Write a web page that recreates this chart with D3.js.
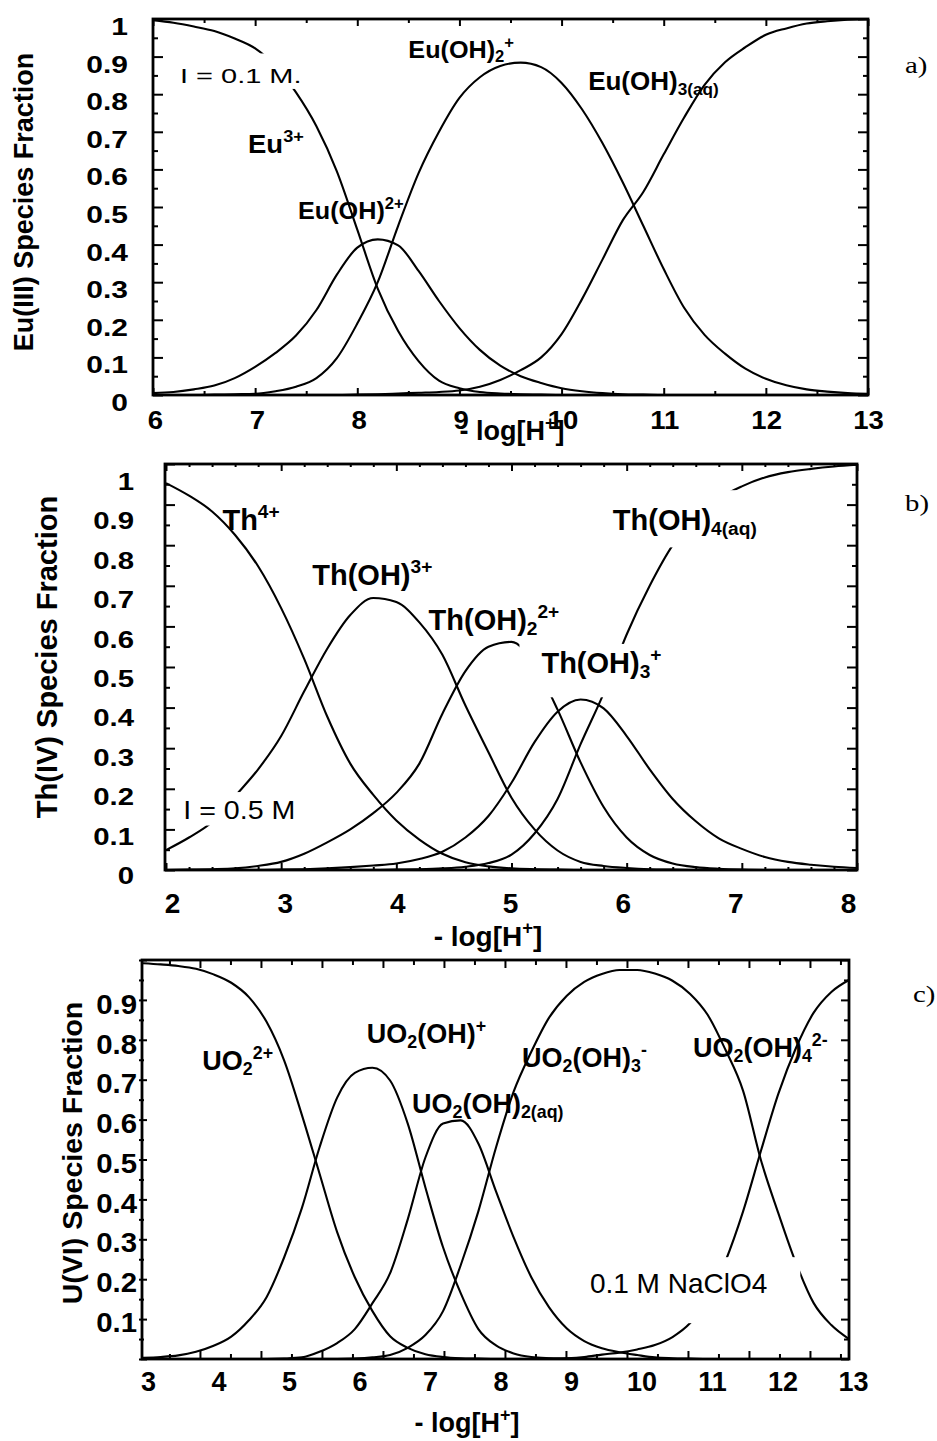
<!DOCTYPE html>
<html>
<head>
<meta charset="utf-8">
<script src="https://cdn.jsdelivr.net/npm/d3@7/dist/d3.min.js"></script>
<style>
  html, body { margin: 0; padding: 0; background: #fff; }
  svg { display: block; }
</style>
</head>
<body>
<svg id="fig" width="937" height="1441"></svg>
<script>
// ---------- (a) Eu(III) hydrolysis, I = 0.1 M ----------
const pHa = [6.0,6.2,6.4,6.6,6.8,7.0,7.2,7.4,7.6,7.8,8.0,8.2,8.4,8.6,8.8,9.0,9.2,9.4,9.6,9.8,
             10.0,10.2,10.4,10.6,10.8,11.0,11.2,11.4,11.6,11.8,12.0,12.2,12.4,12.6,12.8,13.0];
const euFree = [.997,.99,.98,.968,.948,.922,.875,.805,.715,.595,.44,.283,.17,.09,.038,.018,.008,.004,.002,.001,
                0,0,0,0,0,0,0,0,0,0,0,0,0,0,0,0];
const euOH   = [.005,.008,.015,.025,.045,.075,.112,.158,.226,.32,.392,.414,.398,.33,.25,.178,.12,.078,.05,.032,
                .018,.01,.005,.002,.001,0,0,0,0,0,0,0,0,0,0,0];
const euOH2  = [0,0,0,.001,.002,.003,.01,.022,.045,.098,.19,.30,.45,.59,.70,.79,.845,.875,.884,.872,
                .83,.76,.67,.565,.45,.335,.232,.16,.11,.07,.043,.026,.015,.009,.005,.003];
const euOH3  = [0,0,0,0,0,0,0,0,0,0,.001,.002,.004,.006,.008,.012,.022,.04,.066,.1,
                .162,.255,.36,.465,.54,.64,.738,.825,.885,.925,.958,.975,.988,.994,.998,1];
const euXTicks = [6,7,8,9,10,11,12,13];

// ---------- (b) Th(IV) hydrolysis, I = 0.5 M ----------
const pHb = [2.0,2.2,2.4,2.6,2.8,3.0,3.2,3.4,3.6,3.8,4.0,4.2,4.4,4.6,4.8,5.0,5.2,5.4,5.6,5.8,
             6.0,6.2,6.4,6.6,6.8,7.0,7.2,7.4,7.6,7.8,8.0];
const thFree = [.953,.922,.883,.825,.748,.645,.52,.378,.262,.185,.122,.075,.04,.019,.009,.004,.002,.001,0,0,
                0,0,0,0,0,0,0,0,0,0,0];
const thOH   = [.049,.08,.118,.182,.248,.33,.44,.545,.628,.67,.66,.61,.53,.405,.29,.178,.1,.048,.02,.01,
                .005,.002,.001,0,0,0,0,0,0,0,0];
const thOH2  = [0,.001,.002,.004,.01,.02,.04,.068,.1,.14,.19,.262,.385,.49,.55,.562,.505,.395,.265,.155,
                .08,.037,.016,.007,.003,.001,0,0,0,0,0];
const thOH3  = [0,0,0,0,0,.001,.002,.004,.007,.011,.016,.027,.045,.08,.133,.215,.315,.39,.42,.398,
                .33,.248,.175,.12,.078,.052,.032,.02,.013,.008,.005];
const thOH4  = [0,0,0,0,0,0,0,0,0,0,.001,.002,.004,.008,.017,.038,.09,.175,.31,.435,
                .58,.70,.80,.868,.915,.945,.967,.98,.988,.994,.998];
const thXTicks = [2,3,4,5,6,7,8];

// ---------- (c) U(VI) hydrolysis, 0.1 M NaClO4 ----------
const pHc = [3,3.25,3.5,3.75,4,4.25,4.5,4.75,5,5.25,5.5,5.75,6,6.25,6.5,6.75,7,7.25,7.5,7.75,
             8,8.25,8.5,8.75,9,9.25,9.5,9.75,10,10.25,10.5,10.75,11,11.25,11.5,11.75,12,12.25,12.5,12.75,13];
const uFree = [.992,.989,.985,.978,.964,.943,.907,.845,.748,.612,.465,.318,.205,.12,.057,.028,.012,.005,.002,.001,
               0,0,0,0,0,0,0,0,0,0,0,0,0,0,0,0,0,0,0,0,0];
const uOH   = [.003,.005,.009,.018,.033,.056,.097,.155,.255,.378,.53,.655,.717,.73,.698,.59,.43,.28,.165,.075,
               .034,.014,.005,.002,.001,0,0,0,0,0,0,0,0,0,0,0,0,0,0,0,0];
const uOH2  = [0,0,0,0,0,0,0,0,.001,.004,.018,.04,.075,.14,.215,.35,.505,.59,.598,.54,
               .42,.305,.205,.13,.077,.045,.027,.017,.01,.004,.002,.001,0,0,0,0,0,0,0,0,0];
const uOH3  = [0,0,0,0,0,0,0,0,0,0,0,0,.001,.004,.01,.028,.06,.12,.235,.37,
               .53,.67,.77,.855,.91,.945,.965,.975,.975,.966,.948,.915,.862,.775,.672,.5,.365,.24,.14,.085,.05];
const uOH4  = [0,0,0,0,0,0,0,0,0,0,0,0,0,0,0,0,0,0,0,0,
               0,0,0,.001,.002,.005,.011,.016,.024,.035,.055,.09,.15,.245,.37,.52,.665,.78,.868,.92,.95];
const uXTicks = [3,4,5,6,7,8,9,10,11,12,13];

// y tick labels
const fracTicks = [0,0.1,0.2,0.3,0.4,0.5,0.6,0.7,0.8,0.9,1];
const fracTicksU = [0.1,0.2,0.3,0.4,0.5,0.6,0.7,0.8,0.9];

// ---------- drawing ----------
const SANS = "'Liberation Sans', Arial, Helvetica, sans-serif";
const SERIF = "'Liberation Serif', 'Times New Roman', serif";
const svg = d3.select('#fig');
const fmtFrac = d => String(+d.toFixed(1));
const steps = (a, b, s) => d3.range(Math.round((b - a) / s) + 1).map(i => +(a + i * s).toFixed(3));

// split "Eu(OH)_{2}^{+}" into normal / subscript / superscript runs
function parseRich(str) {
  const out = [];
  const re = /([_^])\{([^}]*)\}|([^_^]+)/g;
  let m;
  while ((m = re.exec(str))) {
    if (m[3]) out.push({ k: 'n', s: m[3] });
    else out.push({ k: m[1] === '_' ? 'sub' : 'sup', s: m[2] });
  }
  return out;
}

function richText(parent, o) {
  const outer = parent.append('g');
  let tr = `translate(${o.x},${o.y})`;
  if (o.rotate) tr += ` rotate(${o.rotate})`;
  if (o.sx && o.sx !== 1) tr += ` scale(${o.sx},1)`;
  const t = outer.append('g').attr('transform', tr).append('text')
    .attr('font-family', o.family || SANS)
    .attr('font-size', o.size)
    .attr('font-weight', o.weight || 'bold')
    .attr('text-anchor', o.anchor || 'start')
    .attr('fill', '#000');
  let cur = 0;
  parseRich(o.text).forEach(seg => {
    const off = seg.k === 'sub' ? 0.18 * o.size : seg.k === 'sup' ? -0.42 * o.size : 0;
    t.append('tspan')
      .attr('dy', (off - cur).toFixed(2))
      .attr('font-size', seg.k === 'n' ? o.size : o.size * 0.66)
      .text(seg.s);
    cur = off;
  });
  if (o.mask) {
    const bb = outer.node().getBBox();
    const [pt, pr, pb, pl] = o.mask;
    parent.insert('rect', () => outer.node())
      .attr('x', bb.x - pl).attr('y', bb.y - pt)
      .attr('width', bb.width + pl + pr).attr('height', bb.height + pt + pb)
      .attr('fill', '#fff');
  }
  return outer;
}

function drawPanel(p) {
  const g = svg.append('g');
  const x = p.x, y = p.y;
  const [l, r] = x.range();
  const [b, t] = y.range();

  // species curves
  const line = d3.line()
    .x((d, i) => x(p.xs[i]))
    .y(d => y(d))
    .curve(d3.curveMonotoneX);
  g.append('g').selectAll('path').data(p.series).join('path')
    .attr('d', d => line(d))
    .attr('fill', 'none').attr('stroke', '#000')
    .attr('stroke-width', 2.1).attr('stroke-linejoin', 'round');

  // frame
  const fl = p.frameL ?? l;
  g.append('rect').attr('x', fl).attr('y', t).attr('width', r - fl).attr('height', b - t)
    .attr('fill', 'none').attr('stroke', '#000').attr('stroke-width', 2.8);

  // inward tick marks on all four sides
  const tx = p.tickX || x;
  const ticks = (axis, scale, vals, len, tr) => {
    const a = g.append('g').attr('transform', tr)
      .call(axis(scale).tickValues(vals).tickSize(-len).tickFormat(''));
    a.select('.domain').remove();
    a.selectAll('line').attr('stroke', '#000').attr('stroke-width', 2);
  };
  ticks(d3.axisBottom, tx, p.xMajor, p.xLen[0], `translate(0,${b})`);
  ticks(d3.axisBottom, tx, p.xMinor, p.xLen[1], `translate(0,${b})`);
  ticks(d3.axisTop, tx, p.xMajor, p.xLen[0], `translate(0,${t})`);
  ticks(d3.axisTop, tx, p.xMinor, p.xLen[1], `translate(0,${t})`);
  const lx = fl + (p.yTickShift || 0);
  ticks(d3.axisLeft, y, p.yMajor, p.yLen[0], `translate(${lx},0)`);
  ticks(d3.axisLeft, y, p.yMinor, p.yLen[1], `translate(${lx},0)`);
  ticks(d3.axisRight, y, p.yMajor, p.yLen[0], `translate(${r},0)`);
  ticks(d3.axisRight, y, p.yMinor, p.yLen[1], `translate(${r},0)`);

  // y tick labels
  const yl = g.append('g').attr('transform', `translate(${p.yLab.x},0)`)
    .call(d3.axisLeft(p.yLab.scale).tickValues(p.yLab.values).tickSize(0).tickPadding(0).tickFormat(fmtFrac));
  yl.select('.domain').remove();
  yl.selectAll('line').remove();
  yl.attr('font-family', SANS).attr('font-size', p.yLab.size).attr('font-weight', 'bold');
  yl.selectAll('text').attr('x', 0).attr('dy', null).attr('fill', '#000')
    .attr('transform', `scale(${p.yLab.sx},1)`);

  // x tick labels
  const xl = g.append('g').attr('transform', `translate(0,${p.xLab.y})`)
    .call(d3.axisBottom(p.xLab.scale).tickValues(p.xLab.values).tickSize(0).tickPadding(0).tickFormat(d3.format('d')));
  xl.select('.domain').remove();
  xl.selectAll('line').remove();
  xl.attr('font-family', SANS).attr('font-size', p.xLab.size).attr('font-weight', 'bold');
  xl.selectAll('text').attr('y', 0).attr('dy', null).attr('fill', '#000')
    .attr('transform', `scale(${p.xLab.sx},1)`);

  // axis titles and panel tag
  richText(g, { text: '- log[H^{+}]', x: p.xTitle[0], y: p.xTitle[1], size: p.xTitle[2], anchor: 'middle' });
  richText(g, { text: p.yTitle[0], x: p.yTitle[1], y: p.yTitle[2], size: p.yTitle[3], anchor: 'middle', rotate: -90 });
  richText(g, { text: p.tag[0], x: p.tag[1], y: p.tag[2], size: 24, sx: 1.2, weight: 'normal', family: SERIF });

  // species labels
  p.notes.forEach(n => richText(g, {
    text: n.t, x: x(n.x), y: y(n.y), size: n.size, sx: n.sx || 1,
    weight: n.w || 'bold', mask: n.mask
  }));
}

// (a)
drawPanel({
  xs: pHa, series: [euFree, euOH, euOH2, euOH3],
  x: d3.scaleLinear().domain([6, 13]).range([153, 868]),
  y: d3.scaleLinear().domain([0, 1]).range([395, 19]),
  xMajor: euXTicks, xMinor: steps(6.5, 12.5, 1), xLen: [7, 4],
  yMajor: fracTicks, yMinor: steps(0.05, 0.95, 0.1), yLen: [10, 5],
  yLab: { values: fracTicks, scale: d3.scaleLinear().domain([0, 1]).range([410.5, 34.5]), x: 128, size: 24, sx: 1.25 },
  xLab: { values: euXTicks, scale: d3.scaleLinear().domain([6, 13]).range([155, 868]), y: 429, size: 25, sx: 1.1 },
  xTitle: [512, 440, 27],
  yTitle: ['Eu(III) Species Fraction', 33, 202, 27],
  tag: ['a)', 905, 73],
  notes: [
    { t: 'I = 0.1 M.', x: 6.264, y: 0.83, size: 20, sx: 1.45, w: 'normal', mask: [11, 4, 2, 3] },
    { t: 'Eu^{3+}', x: 6.93, y: 0.644, size: 25, sx: 1.1 },
    { t: 'Eu(OH)^{2+}', x: 7.42, y: 0.468, size: 24, sx: 1.05 },
    { t: 'Eu(OH)_{2}^{+}', x: 8.5, y: 0.896, size: 24, sx: 1.05 },
    { t: 'Eu(OH)_{3(aq)}', x: 10.26, y: 0.811, size: 25, sx: 1.04 }
  ]
});

// (b)
drawPanel({
  xs: pHb, series: [thFree, thOH, thOH2, thOH3, thOH4],
  x: d3.scaleLinear().domain([2, 8]).range([166, 857]),
  frameL: 165,
  y: d3.scaleLinear().domain([0, 1]).range([870, 464]),
  xMajor: thXTicks, xMinor: steps(2.2, 7.8, 0.2).filter(v => Math.abs(v - Math.round(v)) > 0.01), xLen: [7, 3],
  yMajor: fracTicks, yMinor: steps(0.05, 0.95, 0.1), yLen: [10, 5],
  yLab: { values: fracTicks, scale: d3.scaleLinear().domain([0, 1]).range([883.5, 489.5]), x: 134, size: 23.5, sx: 1.25 },
  xLab: { values: thXTicks, scale: d3.scaleLinear().domain([2, 8]).range([172, 848]), y: 913, size: 28, sx: 1 },
  xTitle: [488, 946, 28],
  yTitle: ['Th(IV) Species Fraction', 57, 657, 29],
  tag: ['b)', 905, 511],
  notes: [
    { t: 'Th^{4+}', x: 2.49, y: 0.837, size: 29 },
    { t: 'Th(OH)^{3+}', x: 3.27, y: 0.702, size: 29 },
    { t: 'Th(OH)_{2}^{2+}', x: 4.28, y: 0.591, size: 29 },
    { t: 'Th(OH)_{3}^{+}', x: 5.26, y: 0.485, size: 29, mask: [0, 3, 15, 22] },
    { t: 'Th(OH)_{4(aq)}', x: 5.88, y: 0.837, size: 29, mask: [14, 3, 8, 13] },
    { t: 'I = 0.5 M', x: 2.15, y: 0.126, size: 26, sx: 1.1, w: 'normal', mask: [3, 3, 1, 3] }
  ]
});

// (c)
drawPanel({
  xs: pHc, series: [uFree, uOH, uOH2, uOH3, uOH4],
  x: d3.scaleLinear().domain([3, 13]).range([143, 849]),
  frameL: 142,
  tickX: d3.scaleLinear().domain([2.05, 13.64]).range([142, 849]),
  y: d3.scaleLinear().domain([0, 1]).range([1359, 960]),
  xMajor: uXTicks, xMinor: steps(2.5, 13.5, 1), xLen: [8, 5],
  yMajor: fracTicks, yMinor: steps(0.05, 0.95, 0.1), yLen: [8, 5], yTickShift: -3,
  yLab: { values: fracTicksU, scale: d3.scaleLinear().domain([0, 1]).range([1371, 973.5]), x: 137, size: 28, sx: 1.05 },
  xLab: { values: uXTicks, scale: d3.scaleLinear().domain([3, 13]).range([148, 853]), y: 1391, size: 27, sx: 1 },
  xTitle: [467, 1432, 27],
  yTitle: ['U(VI) Species Fraction', 82, 1153, 28.5],
  tag: ['c)', 913, 1002],
  notes: [
    { t: 'UO_{2}^{2+}', x: 3.84, y: 0.724, size: 27 },
    { t: 'UO_{2}(OH)^{+}', x: 6.17, y: 0.792, size: 27 },
    { t: 'UO_{2}(OH)_{2(aq)}', x: 6.81, y: 0.617, size: 27 },
    { t: 'UO_{2}(OH)_{3}^{-}', x: 8.37, y: 0.732, size: 27 },
    { t: 'UO_{2}(OH)_{4}^{2-}', x: 10.79, y: 0.757, size: 27 },
    { t: '0.1 M NaClO4', x: 9.33, y: 0.165, size: 28, w: 'normal', mask: [11, 33, 24, 5] }
  ]
});
</script>
</body>
</html>
